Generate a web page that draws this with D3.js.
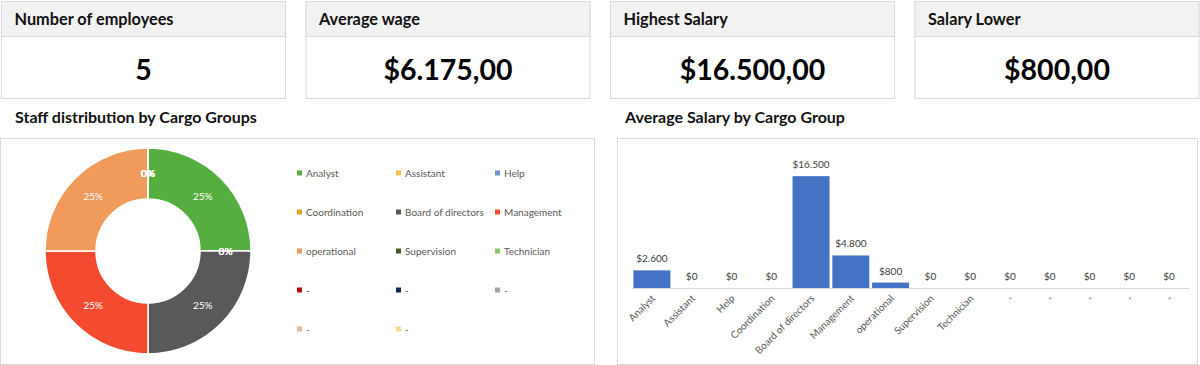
<!DOCTYPE html>
<html>
<head>
<meta charset="utf-8">
<script src="https://cdn.jsdelivr.net/npm/d3@7"></script>
<style>
  body { margin: 0; background: #fff; }
  text { font-family: Lato, "Open Sans", sans-serif; }
</style>
</head>
<body>
<svg id="dash" width="1200" height="365"></svg>
<script>
// kpi cards
var kpiTitles = ["Number of employees", "Average wage", "Highest Salary", "Salary Lower"];
var kpiValues = [5, 6175, 16500, 800];
var kpiIsMoney = [false, true, true, true];

// cargo groups
var groups = ["Analyst", "Assistant", "Help", "Coordination", "Board of directors", "Management",
  "operational", "Supervision", "Technician", "-", "-", "-", "-", "-"];
var staffShare = [25, 0, 0, 0, 25, 25, 25, 0, 0, 0, 0, 0, 0, 0];
var avgSalary = [2600, 0, 0, 0, 16500, 4800, 800, 0, 0, 0, 0, 0, 0, 0];
var groupColors = ["#56ae41", "#f5c242", "#6f94c4", "#f0a020", "#595959", "#f44a30",
  "#f09a5c", "#3f5a24", "#8dc26e", "#b01010", "#0d2a5c", "#a5a5a5", "#e6b89a", "#fcd98a"];

var loc = d3.formatLocale({ decimal: ",", thousands: ".", grouping: [3], currency: ["$", ""] });
var money2 = loc.format("$,.2f");
var money0 = loc.format("$,.0f");

var svg = d3.select("#dash");
var border = "#d9d9d9";

// ---- KPI cards ----
var cardW = 284, cardStep = 304.5;
var cards = svg.selectAll("g.card")
  .data(kpiTitles)
  .enter().append("g")
  .attr("class", "card")
  .attr("transform", function (d, i) { return "translate(" + (1.5 + i * cardStep) + ",1.5)"; });

cards.append("rect")
  .attr("width", cardW).attr("height", 97)
  .attr("fill", "#fff").attr("stroke", border);
cards.append("rect")
  .attr("width", cardW).attr("height", 35)
  .attr("fill", "#f2f2f2").attr("stroke", border);
cards.append("text")
  .attr("x", 13).attr("y", 23)
  .attr("font-size", 16.3).attr("font-weight", "bold").attr("fill", "#111")
  .text(function (d) { return d; });
cards.append("text")
  .attr("x", cardW / 2).attr("y", 78)
  .attr("text-anchor", "middle")
  .attr("font-size", 28.5).attr("font-weight", "bold").attr("fill", "#000")
  .text(function (d, i) { return kpiIsMoney[i] ? money2(kpiValues[i]) : kpiValues[i]; });

// ---- panel titles + frames ----
svg.append("text").attr("x", 15).attr("y", 123)
  .attr("font-size", 16).attr("font-weight", "bold").attr("fill", "#111")
  .text("Staff distribution by Cargo Groups");
svg.append("rect").attr("x", 0.5).attr("y", 138.5).attr("width", 594).attr("height", 226)
  .attr("fill", "none").attr("stroke", border);

svg.append("text").attr("x", 625).attr("y", 123)
  .attr("font-size", 16).attr("font-weight", "bold").attr("fill", "#111")
  .text("Average Salary by Cargo Group");
svg.append("rect").attr("x", 617.5).attr("y", 138.5).attr("width", 580).attr("height", 226)
  .attr("fill", "none").attr("stroke", border);

// ---- donut ----
var pie = d3.pie().sort(null).value(function (d) { return d; });
var arc = d3.arc().innerRadius(52).outerRadius(103);
var donut = svg.append("g").attr("transform", "translate(148,251)");
var arcs = pie(staffShare);

donut.selectAll("path")
  .data(arcs)
  .enter().append("path")
  .attr("d", arc)
  .attr("fill", function (d, i) { return groupColors[i]; })
  .attr("stroke", "#fff").attr("stroke-width", 1.5);

var total = d3.sum(staffShare);
donut.selectAll("text")
  .data(arcs)
  .enter().append("text")
  .attr("transform", function (d) { return "translate(" + arc.centroid(d) + ")"; })
  .attr("text-anchor", "middle").attr("dy", "0.35em")
  .attr("font-size", 10).attr("fill", "#fff")
  .text(function (d) { return Math.round(d.value / total * 100) + "%"; });

// legend
var legend = svg.selectAll("g.legend")
  .data(groups)
  .enter().append("g")
  .attr("class", "legend")
  .attr("transform", function (d, i) {
    return "translate(" + (297 + (i % 3) * 99) + "," + (173 + Math.floor(i / 3) * 39) + ")";
  });
legend.append("rect")
  .attr("x", 0).attr("y", -2.5).attr("width", 5).attr("height", 5)
  .attr("fill", function (d, i) { return groupColors[i]; });
legend.append("text")
  .attr("x", 9).attr("dy", "0.35em")
  .attr("font-size", 10).attr("fill", "#595959")
  .text(function (d) { return d; });

// ---- bar chart ----
var x = d3.scaleBand()
  .domain(d3.range(groups.length))
  .range([632, 1189])
  .paddingInner(0.07).paddingOuter(0.035);
var y = d3.scaleLinear().domain([0, 18000]).range([288, 166]);

var bars = svg.append("g");
bars.selectAll("rect")
  .data(avgSalary)
  .enter().append("rect")
  .attr("x", function (d, i) { return x(i); })
  .attr("y", function (d) { return y(d); })
  .attr("width", x.bandwidth())
  .attr("height", function (d) { return y(0) - y(d); })
  .attr("fill", "#4472c4");

bars.selectAll("text.val")
  .data(avgSalary)
  .enter().append("text")
  .attr("class", "val")
  .attr("x", function (d, i) { return x(i) + x.bandwidth() / 2; })
  .attr("y", function (d) { return y(d) - 8; })
  .attr("text-anchor", "middle")
  .attr("font-size", 10).attr("fill", "#404040")
  .text(function (d) { return money0(d); });

var xAxis = svg.append("g")
  .attr("transform", "translate(0," + y(0) + ")")
  .call(d3.axisBottom(x).tickSize(0).tickFormat(function (i) { return groups[i]; }));
xAxis.select(".domain").attr("stroke", border);
xAxis.selectAll("text")
  .attr("font-size", 10).attr("fill", "#595959")
  .attr("text-anchor", "end")
  .attr("y", 0).attr("dy", 0)
  .attr("transform", "translate(4,11) rotate(-45)");
</script>
</body>
</html>
